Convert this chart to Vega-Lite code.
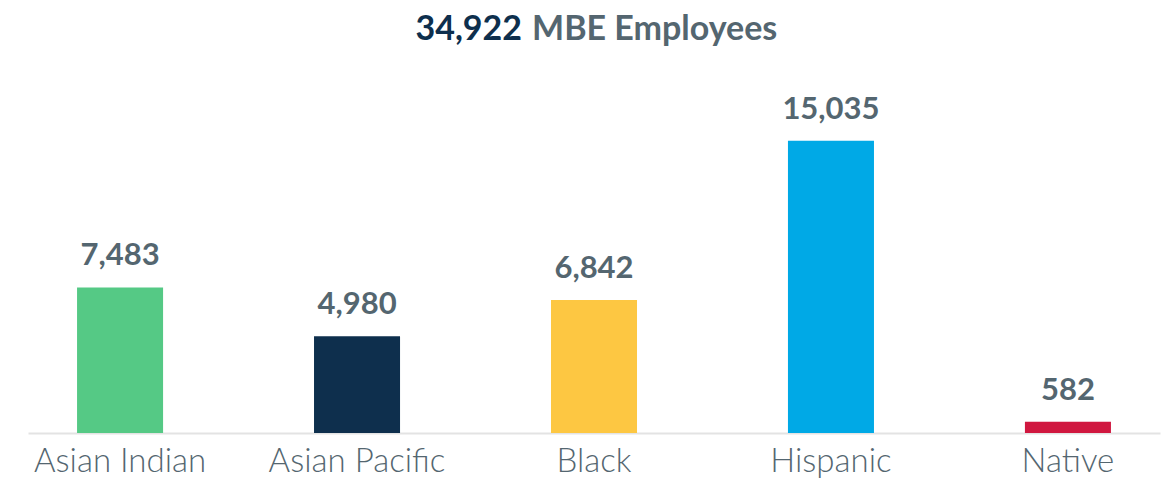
{
  "$schema": "https://vega.github.io/schema/vega-lite/v6.json",
  "width": 1132,
  "height": 350,
  "autosize": {"type": "none"},
  "padding": {"left": 28, "top": 83, "right": 16, "bottom": 50},
  "background": "white",
  "config": {"view": {"stroke": null}, "font": "Lato"},
  "data": {
    "values": [
      {"group": "Asian Indian", "employees": 7483},
      {"group": "Asian Pacific", "employees": 4980},
      {"group": "Black", "employees": 6842},
      {"group": "Hispanic", "employees": 15035},
      {"group": "Native", "employees": 582}
    ]
  },
  "layer": [
    {
      "mark": {"type": "bar"},
      "encoding": {
        "x": {
          "field": "group",
          "type": "nominal",
          "sort": null,
          "scale": {"paddingInner": 0.637, "paddingOuter": 0.207},
          "axis": {
            "title": null,
            "labelAngle": 0,
            "labelFontSize": 33,
            "labelFontWeight": 300,
            "labelColor": "#546670",
            "labelFont": "Lato",
            "labelPadding": 12,
            "ticks": false,
            "domainColor": "#e3e3e3",
            "domainWidth": 2
          }
        },
        "y": {
          "field": "employees",
          "type": "quantitative",
          "scale": {"domain": [0, 18000]},
          "axis": null
        },
        "color": {
          "field": "group",
          "type": "nominal",
          "scale": {
            "domain": ["Asian Indian", "Asian Pacific", "Black", "Hispanic", "Native"],
            "range": ["#55C985", "#0E2F4D", "#FDC742", "#00A9E6", "#D0173F"]
          },
          "legend": null
        }
      }
    },
    {
      "mark": {"type": "text", "baseline": "alphabetic", "dy": -22, "fontSize": 31, "fontWeight": "bold", "color": "#546670", "font": "Lato"},
      "encoding": {
        "x": {"field": "group", "type": "nominal", "sort": null},
        "y": {"field": "employees", "type": "quantitative"},
        "text": {"field": "employees", "type": "quantitative", "format": ","}
      }
    },
    {
      "transform": [{"aggregate": [{"op": "sum", "field": "employees", "as": "total"}]}],
      "mark": {"type": "text", "baseline": "alphabetic", "align": "right", "dx": -72, "fontSize": 34, "fontWeight": "bold", "color": "#0E2F4D", "font": "Lato"},
      "encoding": {
        "x": {"datum": "Black", "type": "nominal"},
        "y": {"datum": 20211, "type": "quantitative"},
        "text": {"field": "total", "type": "quantitative", "format": ","}
      }
    },
    {
      "transform": [{"aggregate": [{"op": "count", "as": "n"}]}],
      "mark": {"type": "text", "baseline": "alphabetic", "align": "left", "dx": -62, "fontSize": 34, "fontWeight": "bold", "color": "#546670", "font": "Lato"},
      "encoding": {
        "x": {"datum": "Black", "type": "nominal"},
        "y": {"datum": 20211, "type": "quantitative"},
        "text": {"value": "MBE Employees"}
      }
    }
  ]
}
